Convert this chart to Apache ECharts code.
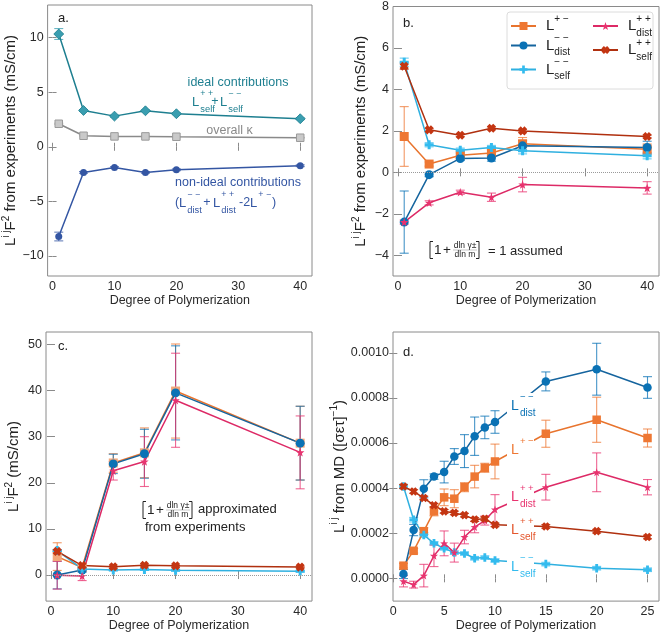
<!DOCTYPE html>
<html><head><meta charset="utf-8">
<script src="https://cdn.jsdelivr.net/npm/echarts@6/dist/echarts.min.js"></script>
<style>html,body{margin:0;padding:0;background:#fff}#c{width:661px;height:633px}</style>
</head><body><div id="c"></div>
<script>
// ---------------- DATA ----------------
const xExp = [1, 5, 10, 15, 20, 40];
const xMD = [1, 2, 3, 4, 5, 6, 7, 8, 9, 10, 15, 20, 25];

// panel a
const aIdeal = [10.34, 3.33, 2.81, 3.30, 3.03, 2.57];
const aIdealErr = [0.5, 0.08, 0.08, 0.08, 0.08, 0.08];
const aOverall = [2.11, 1.01, 0.95, 0.95, 0.92, 0.83];
const aOverallErr = [0.05, 0.03, 0.03, 0.03, 0.03, 0.03];
const aNonIdeal = [-8.23, -2.35, -1.90, -2.35, -2.11, -1.74];
const aNonIdealErr = [0.4, 0.08, 0.08, 0.08, 0.08, 0.08];

// panel b
const bPM = [1.73, 0.40, 0.82, 0.93, 1.38, 1.12];
const bPMErr = [1.44, 0.1, 0.1, 0.15, 0.3, 0.25];
const bMMdist = [-2.40, -0.11, 0.67, 0.69, 1.28, 1.20];
const bMMdistErr = [1.5, 0.1, 0.1, 0.15, 0.25, 0.3];
const bMMself = [5.31, 1.33, 1.07, 1.20, 1.04, 0.80];
const bMMselfErr = [0.2, 0.1, 0.1, 0.1, 0.15, 0.15];
const bPPdist = [-2.40, -1.47, -0.96, -1.20, -0.59, -0.75];
const bPPdistErr = [0.1, 0.1, 0.1, 0.2, 0.35, 0.3];
const bPPself = [5.12, 2.05, 1.79, 2.13, 2.00, 1.73];
const bPPselfErr = [0.15, 0.06, 0.06, 0.06, 0.06, 0.06];

// panel c
const cPM = [4.0, 1.64, 24.3, 26.5, 39.9, 28.6];
const cPMErr = [3.0, 0.5, 2.0, 5.4, 10.2, 8.0];
const cMMdist = [0.0, 1.1, 24.1, 26.3, 39.5, 28.6];
const cMMdistErr = [3.0, 0.5, 2.1, 5.3, 10.2, 8.0];
const cMMself = [5.31, 1.33, 1.07, 1.20, 1.04, 0.80];
const cMMselfErr = [0.2, 0.1, 0.1, 0.1, 0.15, 0.15];
const cPPdist = [-0.05, -0.2, 22.6, 24.6, 37.9, 26.6];
const cPPdistErr = [3.0, 1.0, 2.0, 5.4, 10.2, 7.9];
const cPPself = [5.12, 2.05, 1.79, 2.13, 2.00, 1.73];
const cPPselfErr = [0.15, 0.06, 0.06, 0.06, 0.06, 0.06];

// panel d
const dMMdist = [0.000019, 0.000214, 0.000397, 0.000451, 0.000471, 0.00054, 0.000564, 0.00063, 0.000669, 0.000693, 0.000873, 0.000927, 0.000846];
const dMMdistErr = [0.00002, 0.000025, 0.00004, 0.000012, 0.000048, 0.000035, 0.000073, 0.000085, 0.00005, 0.00005, 0.000042, 0.000115, 0.000048];
const dPM = [0.000056, 0.000122, 0.000209, 0.000297, 0.000359, 0.000353, 0.000404, 0.000451, 0.00049, 0.000518, 0.000641, 0.000703, 0.000622];
const dPMErr = [0.00001, 0.00001, 0.000015, 0.00002, 0.000037, 0.00004, 0.00002, 0.00005, 0.00002, 0.000077, 0.00006, 0.0001, 0.00004];
const dPPdist = [-0.000013, -0.000028, 0.000012, 0.0001, 0.000155, 0.000114, 0.000183, 0.000227, 0.000256, 0.000305, 0.000404, 0.00047, 0.000404];
const dPPdistErr = [0.000025, 0.000015, 0.00005, 0.000048, 0.000055, 0.000042, 0.00003, 0.000025, 0.00002, 0.000066, 0.000057, 0.000086, 0.000034];
const dPPself = [0.000407, 0.000385, 0.000356, 0.000324, 0.000297, 0.00029, 0.00028, 0.000261, 0.000264, 0.000237, 0.00023, 0.000209, 0.000183];
const dPPselfErr = [0.000008, 0.000008, 0.000008, 0.000008, 0.000008, 0.000008, 0.000008, 0.000008, 0.000008, 0.000008, 0.000008, 0.000008, 0.000008];
const dMMself = [0.000407, 0.00026, 0.000192, 0.000155, 0.000133, 0.000114, 0.00011, 0.000089, 0.000092, 0.000079, 0.000063, 0.000045, 0.000038];
const dMMselfErr = [0.00001, 0.00001, 0.00001, 0.000008, 0.000008, 0.000008, 0.000008, 0.000008, 0.000008, 0.000008, 0.000008, 0.000008, 0.000008];

// ticks
const xTicksExp = [0, 10, 20, 30, 40];
const xTicksMD = [0, 5, 10, 15, 20, 25];
const yTicksA = [-10, -5, 0, 5, 10];
const yTicksB = [-4, -2, 0, 2, 4, 6, 8];
const yTicksC = [0, 10, 20, 30, 40, 50];
const yTicksD = [0, 0.0002, 0.0004, 0.0006, 0.0008, 0.0010];

// ---------------- STYLE ----------------
const FF = '"Liberation Sans", Arial, Helvetica, sans-serif';
const COL = {pm: '#EE7733', mmd: '#0A72B5', mms: '#33BBEE', ppd: '#E8336F', pps: '#C43512'};
const LINE = {pm: '#E8742E', mmd: '#15649E', mms: '#2FB0E0', ppd: '#DD2A66', pps: '#B0300F'};
const PLUS = 'path://M-1,-3H1V-1H3V1H1V3H-1V1H-3V-1H-1Z';
const XSYM = 'path://M-1.3,-3H1.3V-1.3H3V1.3H1.3V3H-1.3V1.3H-3V-1.3H-1.3Z';
const STAR = 'path://M0,-1L0.235,-0.324L0.951,-0.309L0.38,0.124L0.588,0.809L0,0.4L-0.588,0.809L-0.38,0.124L-0.951,-0.309L-0.235,-0.324Z';

function fmtNum(v, d) {
  const s = d == null ? String(v) : Math.abs(v).toFixed(d);
  if (d == null) return v < 0 ? '\u2212' + String(-v) : s;
  return v < 0 ? '\u2212' + s : s;
}

const grids = [
  {left: 46, top: 5, width: 266, height: 271},
  {left: 393, top: 5, width: 266, height: 271},
  {left: 46, top: 332, width: 266, height: 272},
  {left: 393, top: 332, width: 266, height: 272}
].map(g => Object.assign({show: true, borderColor: '#8a8a8a', borderWidth: 1, backgroundColor: 'transparent'}, g));

const NAME_RICH = {
  L: {fontSize: 15, lineHeight: 20, fontFamily: FF, color: '#222'},
  sp: {fontSize: 10, lineHeight: 8, verticalAlign: 'top', fontFamily: FF, color: '#222'},
  t: {fontSize: 15, lineHeight: 20, fontFamily: FF, color: '#222'}
};

const xAxes = [], yAxes = [];
function addAxes(gi, xr, xt, yr, yt, yFmt, yName, yGap) {
  xAxes.push({type: 'value', gridIndex: gi, min: xr[0], max: xr[1], position: 'bottom',
    axisLine: {show: false}, splitLine: {show: false},
    axisTick: {inside: true, length: 4, lineStyle: {color: '#8a8a8a'}, customValues: xt},
    axisLabel: {customValues: xt, color: '#2a2a2a', fontSize: 12.5, fontFamily: FF, margin: 4},
    name: 'Degree of Polymerization', nameLocation: 'middle', nameGap: 15,
    nameTextStyle: {fontSize: 12.5, color: '#2a2a2a', fontFamily: FF, verticalAlign: 'top'}});
  xAxes.push({type: 'value', gridIndex: gi, min: xr[0], max: xr[1], position: 'top',
    axisLine: {show: false}, splitLine: {show: false},
    axisTick: {inside: true, length: 4, lineStyle: {color: '#8a8a8a'}, customValues: xt},
    axisLabel: {show: false}});
  yAxes.push({type: 'value', gridIndex: gi, min: yr[0], max: yr[1], position: 'left',
    axisLine: {show: false}, splitLine: {show: false},
    axisTick: {inside: true, length: 4, lineStyle: {color: '#8a8a8a'}, customValues: yt},
    axisLabel: {customValues: yt, color: '#2a2a2a', fontSize: 12.5, fontFamily: FF, margin: 4, formatter: yFmt},
    name: yName, nameLocation: 'middle', nameGap: yGap,
    nameTextStyle: {rich: NAME_RICH, fontFamily: FF}});
  yAxes.push({type: 'value', gridIndex: gi, min: yr[0], max: yr[1], position: 'right',
    axisLine: {show: false}, splitLine: {show: false},
    axisTick: {inside: true, length: 4, lineStyle: {color: '#8a8a8a'}, customValues: yt},
    axisLabel: {show: false}});
}
const nameExp = '{L|L}{sp|i j}{L|F}{sp|2}{t| from experiments (mS/cm)}';
addAxes(0, [-0.8, 41.9], xTicksExp, [-11.85, 13], yTicksA, v => fmtNum(v), nameExp, 22);
addAxes(1, [-0.8, 41.9], xTicksExp, [-5, 8], yTicksB, v => fmtNum(v), nameExp, 22);
addAxes(2, [-0.8, 41.9], xTicksExp, [-5.65, 52.7], yTicksC, v => fmtNum(v), '{L|L}{sp|i j}{L|F}{sp|2}{t| (mS/cm)}', 22);
addAxes(3, [-0.03, 26.13], xTicksMD, [-0.000101, 0.001092], yTicksD, v => fmtNum(v, 4), '{L|L}{sp|i j}{t| from MD ([σετ]}{sp|\u22121}{t|)}', 40);

const series = [];
function lineS(name, xs, ys, gi, lineColor, fill, symbol, size, extra) {
  const s = {type: 'line', name: name, xAxisIndex: gi * 2, yAxisIndex: gi * 2,
    data: xs.map((x, i) => [x, ys[i]]),
    symbol: symbol, symbolSize: size, showAllSymbol: true,
    lineStyle: {color: lineColor, width: 1.5},
    itemStyle: {color: fill, borderWidth: 0},
    z: 4, animation: false, emphasis: {disabled: true}, silent: true};
  return Object.assign(s, extra || {});
}
function errS(xs, ys, es, gi, color) {
  return {type: 'custom', xAxisIndex: gi * 2, yAxisIndex: gi * 2, z: 3, silent: true, animation: false,
    data: xs.map((x, i) => [x, ys[i], es[i]]),
    encode: {x: 0, y: 1},
    renderItem: function (params, api) {
      const x = api.value(0), y = api.value(1), e = api.value(2);
      const hi = api.coord([x, y + e]), lo = api.coord([x, y - e]);
      const st = {stroke: color, lineWidth: 1.1, opacity: 0.75};
      const cap = 4.5;
      return {type: 'group', children: [
        {type: 'line', shape: {x1: hi[0], y1: hi[1], x2: lo[0], y2: lo[1]}, style: st},
        {type: 'line', shape: {x1: hi[0] - cap, y1: hi[1], x2: hi[0] + cap, y2: hi[1]}, style: st},
        {type: 'line', shape: {x1: lo[0] - cap, y1: lo[1], x2: lo[0] + cap, y2: lo[1]}, style: st}
      ]};
    }};
}
function zeroLine() {
  return {silent: true, symbol: 'none', label: {show: false}, animation: false,
    lineStyle: {type: 'dotted', color: '#9a9a9a', width: 1}, data: [{yAxis: 0}]};
}

// panel a
const TEAL = '#1E7F90', TEALF = '#3A9EB0', NBLUE = '#3456A3';
series.push(errS(xExp, aIdeal, aIdealErr, 0, TEALF));
series.push(lineS('ideal', xExp, aIdeal, 0, TEAL, TEALF, 'rect', 7, {symbolRotate: 45, itemStyle: {color: TEALF, borderColor: TEAL, borderWidth: 0.8}}));
series.push(errS(xExp, aOverall, aOverallErr, 0, '#aaa'));
series.push(lineS('overall', xExp, aOverall, 0, '#8a8a8a', '#c9c9c9', 'rect', 7.5, {itemStyle: {color: '#c9c9c9', borderColor: '#9a9a9a', borderWidth: 1}}));
series.push(errS(xExp, aNonIdeal, aNonIdealErr, 0, NBLUE));
series.push(lineS('nonideal', xExp, aNonIdeal, 0, NBLUE, NBLUE, 'circle', 7));

// panels b, c, d
function fivePanel(gi, xs, pm, pmE, mmd, mmdE, mms, mmsE, ppd, ppdE, pps, ppsE, withZero, sz, pmFill) {
  series.push(errS(xs, pm, pmE, gi, COL.pm));
  const s0 = lineS('pm', xs, pm, gi, LINE.pm, pmFill || COL.pm, 'rect', sz);
  if (withZero) s0.markLine = zeroLine();
  series.push(s0);
  series.push(errS(xs, mmd, mmdE, gi, COL.mmd));
  series.push(lineS('mmd', xs, mmd, gi, LINE.mmd, COL.mmd, 'circle', sz));
  series.push(errS(xs, mms, mmsE, gi, COL.mms));
  series.push(lineS('mms', xs, mms, gi, LINE.mms, COL.mms, PLUS, sz));
  series.push(errS(xs, ppd, ppdE, gi, COL.ppd));
  series.push(lineS('ppd', xs, ppd, gi, LINE.ppd, COL.ppd, STAR, sz - 0.5));
  series.push(errS(xs, pps, ppsE, gi, COL.pps));
  series.push(lineS('pps', xs, pps, gi, LINE.pps, COL.pps, XSYM, sz, {symbolRotate: 45}));
}
fivePanel(1, xExp, bPM, bPMErr, bMMdist, bMMdistErr, bMMself, bMMselfErr, bPPdist, bPPdistErr, bPPself, bPPselfErr, true, 9);
fivePanel(2, xExp, cPM, cPMErr, cMMdist, cMMdistErr, cMMself, cMMselfErr, cPPdist, cPPdistErr, cPPself, cPPselfErr, true, 9, '#F3A779');
fivePanel(3, xMD, dPM, dPMErr, dMMdist, dMMdistErr, dMMself, dMMselfErr, dPPdist, dPPdistErr, dPPself, dPPselfErr, false, 8.5);

// ---------------- LEGEND ----------------
const LEG_RICH = {
  L: {fontSize: 15, lineHeight: 24, color: '#222', fontFamily: FF, padding: [0, 0, 0, 5]},
  sp: {fontSize: 10, lineHeight: 8, verticalAlign: 'top', color: '#222', fontFamily: FF},
  spz: {fontSize: 10, lineHeight: 8, verticalAlign: 'top', width: 0, color: '#222', fontFamily: FF},
  sb: {fontSize: 10, lineHeight: 6, verticalAlign: 'bottom', color: '#222', fontFamily: FF}
};
const LEG_TXT = {
  pm: '{L|L}{sp|+ \u2212}',
  mmd: '{L|L}{spz|\u2212 \u2212}{sb|dist}',
  mms: '{L|L}{spz|\u2212 \u2212}{sb|self}',
  ppd: '{L|L}{spz|+ +}{sb|dist}',
  pps: '{L|L}{spz|+ +}{sb|self}'
};
function legendAt(left, names) {
  return {data: names, left: left, top: 14, orient: 'vertical', itemWidth: 25, itemHeight: 10,
    itemGap: 0, padding: 0, selectedMode: false, formatter: n => LEG_TXT[n],
    textStyle: {rich: LEG_RICH, fontFamily: FF}};
}

// ---------------- ANNOTATIONS ----------------
function T(x, y, text, color, size, align) {
  return {type: 'text', x: x, y: y, z: 102, silent: true,
    style: {text: text, fill: color, fontSize: size, fontFamily: FF, align: align || 'left', verticalAlign: 'middle'}};
}
function LSS(x, y, sup, sub, color, fs) {
  const out = [T(x, y, 'L', color, fs)];
  const dx = 0.6 * fs + 0.5;
  if (sup) out.push(T(x + dx, y - 0.62 * fs, sup, color, 0.68 * fs));
  if (sub) out.push(T(x + dx, y + 0.55 * fs, sub, color, 0.72 * fs));
  return out;
}
function R(x, y, w, h) {
  return {type: 'rect', z: 101, silent: true, shape: {x: x, y: y, width: w, height: h}, style: {fill: '#fff'}};
}
function bracketAnno(x, y, color) {
  return [
    {type: 'polyline', z: 102, silent: true, shape: {points: [[x + 3, y - 8.5], [x, y - 8.5], [x, y + 8.5], [x + 3, y + 8.5]]}, style: {stroke: color, lineWidth: 1, fill: null}},
    T(x + 4, y + 0.5, '1', color, 13.5),
    T(x + 13, y + 0.5, '+', color, 13.5),
    T(x + 35, y - 4.5, 'dln \u03b3\u00b1', color, 8.5, 'center'),
    {type: 'line', z: 102, silent: true, shape: {x1: x + 23, y1: y, x2: x + 47, y2: y}, style: {stroke: color, lineWidth: 0.5, opacity: 0.5}},
    T(x + 35, y + 5, 'dln m', color, 8.5, 'center'),
    {type: 'polyline', z: 102, silent: true, shape: {points: [[x + 46, y - 8.5], [x + 49, y - 8.5], [x + 49, y + 8.5], [x + 46, y + 8.5]]}, style: {stroke: color, lineWidth: 1, fill: null}}
  ];
}

const G = [];
G.push(T(58, 18, 'a.', '#222', 13), T(403, 23, 'b.', '#222', 13), T(58, 346, 'c.', '#222', 13), T(403, 352, 'd.', '#222', 13));
// panel a notes
G.push(T(238, 83, 'ideal contributions', TEAL, 12.5, 'center'));
G.push(...LSS(192, 102, '+ +', 'self', TEAL, 13), T(215, 102, '+', TEAL, 12.5, 'center'), ...LSS(220, 102, '\u2212 \u2212', 'self', TEAL, 13));
G.push(T(229.5, 131, 'overall \u03ba', '#8a8a8a', 12.5, 'center'));
G.push(T(238, 183, 'non-ideal contributions', NBLUE, 12.5, 'center'));
G.push(T(175, 203, '(', NBLUE, 12.5), ...LSS(179, 203, '\u2212 \u2212', 'dist', NBLUE, 13),
  T(207, 203, '+', NBLUE, 12.5, 'center'), ...LSS(213, 203, '+ +', 'dist', NBLUE, 13),
  T(239, 203, '-2', NBLUE, 12.5), ...LSS(250, 203, '+ \u2212', null, NBLUE, 13), T(272, 203, ')', NBLUE, 12.5));
// panel b legend box + note
G.push({type: 'rect', z: 1, silent: true, shape: {x: 507, y: 12, width: 146, height: 77, r: 3}, style: {fill: 'rgba(255,255,255,0.85)', stroke: '#dcdcdc', lineWidth: 1}});
G.push(...bracketAnno(430, 250, '#222'), T(488, 251, '= 1 assumed', '#222', 13));
// panel c note
G.push(...bracketAnno(143, 510, '#222'), T(198, 509, 'approximated', '#222', 13), T(145, 527, 'from experiments', '#222', 13));
// panel d labels
G.push(R(507, 393, 27, 27), ...LSS(511, 406, '\u2212 \u2212', 'dist', COL.mmd, 14));
G.push(R(507, 439, 27, 20), ...LSS(511, 450, '+ \u2212', null, COL.pm, 14));
G.push(R(507, 485, 27, 26), ...LSS(511, 497, '+ +', 'dist', COL.ppd, 14));
G.push(R(507, 518, 27, 26), ...LSS(511, 530, '+ +', 'self', '#E4572E', 14));
G.push(R(507, 555, 27, 26), ...LSS(511, 567, '\u2212 \u2212', 'self', COL.mms, 14));

const chart = echarts.init(document.getElementById('c'), null, {renderer: 'canvas'});
chart.setOption({
  animation: false,
  backgroundColor: '#fff',
  grid: grids,
  xAxis: xAxes,
  yAxis: yAxes,
  legend: [legendAt(510, ['pm', 'mmd', 'mms']), legendAt(592, ['ppd', 'pps'])],
  series: series,
  graphic: {elements: G}
});
</script>
</body></html>
